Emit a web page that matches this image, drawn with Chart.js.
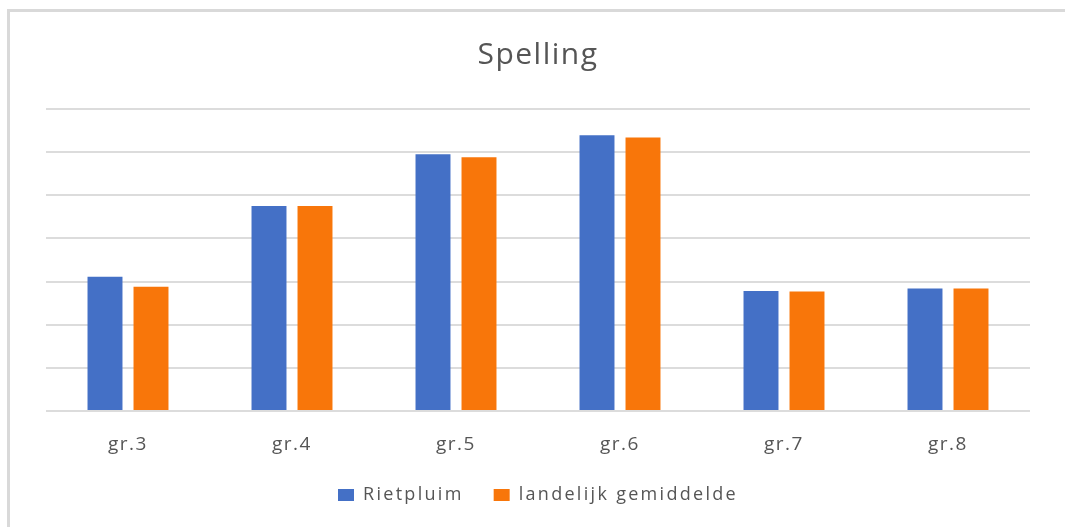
<!DOCTYPE html>
<html>
<head>
<meta charset="utf-8">
<script src="https://cdn.jsdelivr.net/npm/chart.js@4/dist/chart.umd.min.js"></script>
<style>
  html, body { margin: 0; padding: 0; background: #ffffff; overflow: hidden; }
  #frame { position: absolute; left: 7px; top: 9px; width: 1100px; height: 560px; border: 3px solid #d9d9d9; box-sizing: border-box; }
  #c { position: absolute; left: 0; top: 0; }
</style>
</head>
<body>
<div id="frame"></div>
<canvas id="c" width="1065" height="527"></canvas>
<script>
const categories = ['gr.3', 'gr.4', 'gr.5', 'gr.6', 'gr.7', 'gr.8'];
const seriesNames = ['Rietpluim', 'landelijk gemiddelde'];
const rietpluim = [3.11, 4.75, 5.95, 6.39, 2.78, 2.84];
const landelijk = [2.88, 4.75, 5.88, 6.34, 2.77, 2.84];
const titleText = 'Spelling';

function withSpacing(box, method, sp) {
  if (!box || !box[method] || box['_sp_' + method]) return;
  box['_sp_' + method] = true;
  const orig = box[method];
  box[method] = function (...args) {
    const ctx = this.ctx;
    const prev = ctx.letterSpacing;
    ctx.letterSpacing = sp;
    try { return orig.apply(this, args); } finally { ctx.letterSpacing = prev; }
  };
}

function fixLegendHeight(legend, h) {
  if (!legend || legend._fixedH) return;
  legend._fixedH = true;
  const orig = legend.fit;
  legend.fit = function (...args) {
    const r = orig.apply(this, args);
    this.height = h;
    return r;
  };
}

const spacingPlugin = {
  id: 'spacing',
  beforeLayout(chart) {
    withSpacing(chart.legend, 'fit', '2.3px');
    withSpacing(chart.legend, 'draw', '2.3px');
    fixLegendHeight(chart.legend, 71);
    withSpacing(chart.titleBlock, 'fit', '1.5px');
    withSpacing(chart.titleBlock, 'draw', '1.5px');
    if (chart.scales && chart.scales.x) withSpacing(chart.scales.x, 'drawLabels', '1.5px');
  },
  beforeDraw(chart) {
    if (chart.scales && chart.scales.x) withSpacing(chart.scales.x, 'drawLabels', '1.5px');
  }
};

new Chart(document.getElementById('c'), {
  type: 'bar',
  data: {
    labels: categories,
    datasets: [
      { label: seriesNames[0], data: rietpluim, backgroundColor: '#4470C6', borderWidth: 0,
        categoryPercentage: 0.561, barPercentage: 0.76 },
      { label: seriesNames[1], data: landelijk, backgroundColor: '#F8760A', borderWidth: 0,
        categoryPercentage: 0.561, barPercentage: 0.76 }
    ]
  },
  plugins: [spacingPlugin],
  options: {
    responsive: false,
    devicePixelRatio: 1,
    animation: false,
    layout: { padding: { left: 46, right: 35, top: 0, bottom: 0 } },
    plugins: {
      title: {
        display: true, text: titleText, color: '#555555',
        font: { family: "'Open Sans', sans-serif", size: 30, weight: 'normal' },
        padding: { top: 37, bottom: 36 }
      },
      legend: {
        position: 'bottom',
        labels: {
          color: '#555555', boxWidth: 16, boxHeight: 12, padding: 30,
          font: { family: "'Open Sans', sans-serif", size: 18 }
        }
      },
      tooltip: { enabled: false }
    },
    scales: {
      x: {
        grid: { display: false, drawTicks: false },
        border: { display: false },
        ticks: { color: '#555555', padding: 22, font: { family: "'Open Sans', sans-serif", size: 19 } },
        afterFit(scale) { scale.height = 45; }
      },
      y: {
        min: 0, max: 7,
        ticks: { display: false, stepSize: 1 },
        grid: { color: '#dcdcdc', lineWidth: 2, drawTicks: false },
        border: { display: false }
      }
    }
  }
});
</script>
</body>
</html>
